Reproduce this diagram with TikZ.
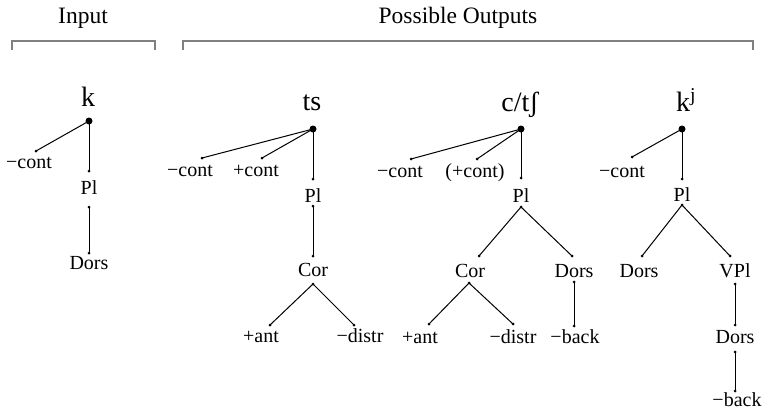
\documentclass[tikz,border=0pt]{standalone}
\usepackage{fontspec}
\setmainfont{Liberation Serif}
\begin{document}
\begin{tikzpicture}[x=1pt,y=-1pt,
  dot/.style={circle,fill=black,inner sep=0pt,minimum size=3pt},
  rootdot/.style={circle,fill=black,inner sep=0pt,minimum size=7pt},
  lab/.style={anchor=base,inner sep=0pt,font=\fontsize{20}{24}\selectfont},
  seg/.style={anchor=base,inner sep=0pt,font=\fontsize{28}{32}\selectfont},
  head/.style={anchor=base,inner sep=0pt,font=\fontsize{23.5}{27}\selectfont},
  edge/.style={draw=black,line width=1pt},
  brack/.style={draw=black!50,line width=1.8pt}]
\useasboundingbox (0,0) rectangle (762,413);

% headers
\node[head] (hin) at (83,23) {Input};
\node[head] (hout) at (458,23) {Possible Outputs};
\draw[brack] (12,50) -- (12,41) -- (155,41) -- (155,50);
\draw[brack] (183,50) -- (183,41) -- (753,41) -- (753,50);

% ---------- input k ----------
\node[seg] (sk) at (88,106) {k};
\node[rootdot] (k0) at (89,121) {};
\node[dot] (kc) at (36,151) {};
\node[lab] (lkc) at (29,168) {−cont};
\node[dot] (kP1) at (89,171) {};
\node[lab] (lkP) at (89,194) {Pl};
\node[dot] (kP2) at (89,207) {};
\node[dot] (kD) at (89,253) {};
\node[lab] (lkD) at (89,269) {Dors};
\draw[edge] (k0.center) -- (kc.center);
\draw[edge] (k0.center) -- (kP1.center);
\draw[edge] (kP2.center) -- (kD.center);

% ---------- ts ----------
\node[seg] (sts) at (312,110) {ts};
\node[rootdot] (t0) at (313,129) {};
\node[dot] (tc1) at (202,158) {};
\node[lab] (ltc1) at (190,176) {−cont};
\node[dot] (tc2) at (262,158) {};
\node[lab] (ltc2) at (256,176) {+cont};
\node[dot] (tP1) at (313,179) {};
\node[lab] (ltP) at (313,202) {Pl};
\node[dot] (tP2) at (313,206) {};
\node[dot] (tC1) at (313,256) {};
\node[lab] (ltC) at (313,276) {Cor};
\node[dot] (tC2) at (313,284) {};
\node[dot] (ta) at (270,325) {};
\node[lab] (lta) at (261,342) {+ant};
\node[dot] (td) at (354,325) {};
\node[lab] (ltd) at (360,342) {−distr};
\draw[edge] (t0.center) -- (tc1.center);
\draw[edge] (t0.center) -- (tc2.center);
\draw[edge] (t0.center) -- (tP1.center);
\draw[edge] (tP2.center) -- (tC1.center);
\draw[edge] (tC2.center) -- (ta.center);
\draw[edge] (tC2.center) -- (td.center);

% ---------- c/tS ----------
\node[seg] (sc) at (520,111) {c/tʃ};
\node[rootdot] (c0) at (521,129) {};
\node[dot] (cc1) at (411,159) {};
\node[lab] (lcc1) at (400,177) {−cont};
\node[dot] (cc2) at (477,159) {};
\node[lab] (lcc2) at (475,177) {(+cont)};
\node[dot] (cP1) at (521,178) {};
\node[lab] (lcP) at (521,202) {Pl};
\node[dot] (cP2) at (521,207) {};
\node[dot] (cC1) at (479,256) {};
\node[lab] (lcC) at (470,277) {Cor};
\node[dot] (cC2) at (469,283) {};
\node[dot] (cD1) at (572,256) {};
\node[lab] (lcD) at (574,277) {Dors};
\node[dot] (cD2) at (574,282) {};
\node[dot] (ca) at (429,324) {};
\node[lab] (lca) at (420,343) {+ant};
\node[dot] (cd) at (513,324) {};
\node[lab] (lcd) at (513,343) {−distr};
\node[dot] (cb) at (574,326) {};
\node[lab] (lcb) at (575,343) {−back};
\draw[edge] (c0.center) -- (cc1.center);
\draw[edge] (c0.center) -- (cc2.center);
\draw[edge] (c0.center) -- (cP1.center);
\draw[edge] (cP2.center) -- (cC1.center);
\draw[edge] (cP2.center) -- (cD1.center);
\draw[edge] (cC2.center) -- (ca.center);
\draw[edge] (cC2.center) -- (cd.center);
\draw[edge] (cD2.center) -- (cb.center);

% ---------- k^j ----------
\node[seg] (skj) at (686,111) {k\textsuperscript{j}};
\node[rootdot] (j0) at (682,129) {};
\node[dot] (jc) at (632,157) {};
\node[lab] (ljc) at (622,177) {−cont};
\node[dot] (jP1) at (682,179) {};
\node[lab] (ljP) at (682,201) {Pl};
\node[dot] (jP2) at (682,205) {};
\node[dot] (jD) at (642,256) {};
\node[lab] (ljD) at (639,277) {Dors};
\node[dot] (jV1) at (730,256) {};
\node[lab] (ljV) at (735,277) {VPl};
\node[dot] (jV2) at (735,284) {};
\node[dot] (jDa) at (735,325) {};
\node[lab] (ljDa) at (735,343) {Dors};
\node[dot] (jDb) at (735,352) {};
\node[dot] (jb) at (735,391) {};
\node[lab] (ljb) at (737,406) {−back};
\draw[edge] (j0.center) -- (jc.center);
\draw[edge] (j0.center) -- (jP1.center);
\draw[edge] (jP2.center) -- (jD.center);
\draw[edge] (jP2.center) -- (jV1.center);
\draw[edge] (jV2.center) -- (jDa.center);
\draw[edge] (jDb.center) -- (jb.center);
\end{tikzpicture}
\end{document}
